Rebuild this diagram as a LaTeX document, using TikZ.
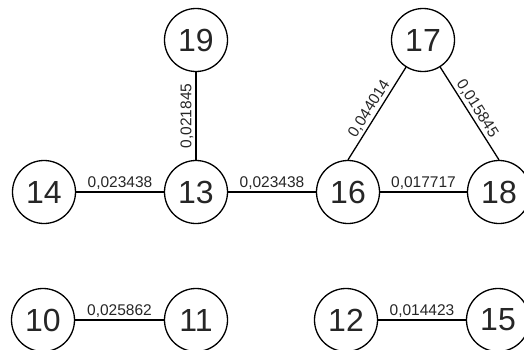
\documentclass[tikz,border=0pt]{standalone}
\usepackage{fontspec}
\setmainfont{Liberation Sans}
\usetikzlibrary{positioning}

\begin{document}
\begin{tikzpicture}[x=1pt,y=1pt,
  vtx/.style={draw,circle,line width=1.3pt,minimum size=63pt,inner sep=0pt,
    font=\fontsize{32}{32}\selectfont,text=black!85},
  edge/.style={line width=1.3pt},
  wt/.style={font=\fontsize{15.5}{15.5}\selectfont,inner sep=2pt,text=black!85}]
\useasboundingbox (0,0) rectangle (524,349);

% upper group
\node[vtx] (n19) at (196,309) {19};
\node[vtx] (n17) at (423,309) {17};
\node[vtx] (n14) at (44,157) {14};
\node[vtx] (n13) at (196,157) {13};
\node[vtx] (n16) at (348,157) {16};
\node[vtx] (n18) at (499,157) {18};

% lower pairs
\node[vtx] (n10) at (43,29) {10};
\node[vtx] (n11) at (196,29) {11};
\node[vtx] (n12) at (346,29) {12};
\node[vtx] (n15) at (498,29) {15};

\draw[edge] (n13) -- node[wt,midway,above,sloped] {0,021845} (n19);
\draw[edge] (n14) -- node[wt,midway,above] {0,023438} (n13);
\draw[edge] (n13) -- node[wt,midway,above] {0,023438} (n16);
\draw[edge] (n16.north) -- node[wt,midway,above,sloped] {0,044014} (n17);
\draw[edge] (n17) -- node[wt,midway,above,sloped] {0,015845} (n18.north);
\draw[edge] (n16) -- node[wt,midway,above] {0,017717} (n18);

\draw[edge] (n10) -- node[wt,midway,above] {0,025862} (n11);
\draw[edge] (n12) -- node[wt,midway,above] {0,014423} (n15);
\end{tikzpicture}
\end{document}
